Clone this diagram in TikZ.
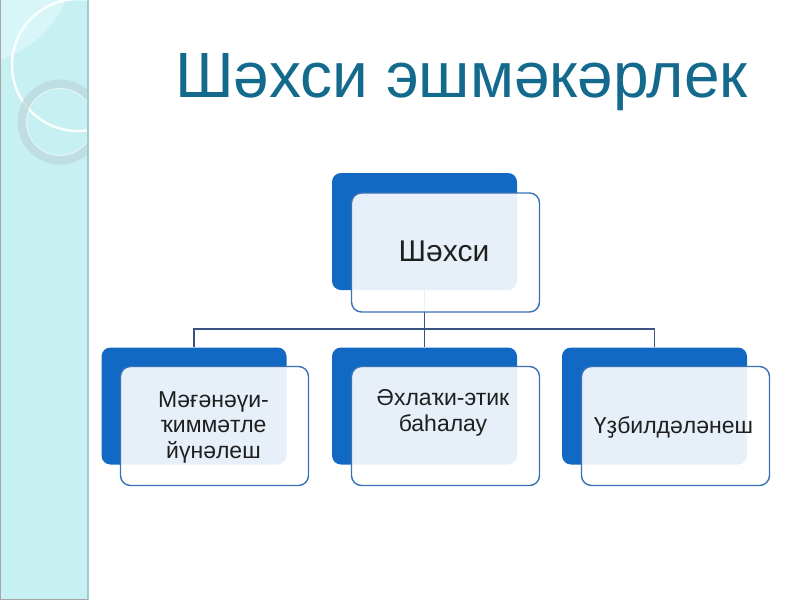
\documentclass[tikz,border=0pt]{standalone}
\usepackage{fontspec}
\setmainfont{Liberation Sans}
\definecolor{stripfill}{HTML}{C6F0F2}
\definecolor{stripedge}{HTML}{9CCBD0}
\definecolor{striplight}{HTML}{D8F5F7}
\definecolor{ringgrey}{HTML}{BCD9DD}
\definecolor{titleblue}{HTML}{146A8C}
\definecolor{backblue}{HTML}{1269C4}
\definecolor{frontline}{HTML}{3A72B6}
\definecolor{connline}{HTML}{3A5380}
\begin{document}
\begin{tikzpicture}[x=1pt,y=-1pt,
  backbox/.style={fill=backblue, draw=none, rounded corners=9pt, minimum width=185pt, minimum height=117pt, inner sep=0pt},
  frontbox/.style={fill=white, fill opacity=0.9, draw=frontline, draw opacity=1, line width=1.4pt, rounded corners=10pt, minimum width=188pt, minimum height=119pt, inner sep=0pt},
  conn/.style={draw=connline, line width=1.5pt},
  lbl/.style={font=\fontsize{23}{25.5}\selectfont, align=center, text=black!88, inner sep=0pt},
  toplbl/.style={font=\fontsize{30}{32}\selectfont, align=center, text=black!88, inner sep=0pt}]
\useasboundingbox (0,0) rectangle (800,600);
\fill[white] (0,0) rectangle (800,600);
% decorative strip
\fill[stripfill] (0,0) rectangle (88,600);
\begin{scope}
  \clip (0,0) rectangle (88,600);
  \fill[striplight] (-30,-40) circle (104);
  \draw[white, line width=2.5pt, opacity=0.9] (78,65) circle (66);
  \draw[ringgrey, line width=9pt, opacity=0.75] (60,122) circle (38);
  \draw[white, line width=1pt, opacity=0.6] (60,122) circle (33.5);
\end{scope}
\draw[stripedge, line width=1.5pt] (88,0) -- (88,600);
\draw[gray!70, line width=1pt] (0.5,0) -- (0.5,600);
\draw[gray!70, line width=1pt] (0,599.5) -- (88,599.5);
% title
\node[anchor=base west, font=\fontsize{64}{66}\selectfont, text=titleblue, inner sep=0pt] (title) at (175,97) {Шәхси эшмәкәрлек};
% back boxes
\node[backbox] (tb) at (424.5,231.5) {};
\node[backbox] (b1) at (194,406) {};
\node[backbox] (b2) at (424.5,406) {};
\node[backbox] (b3) at (654.5,406) {};
% connectors
\coordinate (hbar) at (424.5,329);
\draw[conn] (tb.south) -- (b2.north);
\draw[conn] (b1.north) -- (b1.north |- hbar) -- (b3.north |- hbar) -- (b3.north);
% front boxes
\node[frontbox] (tf) at (445.5,252.5) {};
\node[frontbox] (f1) at (214.5,426) {};
\node[frontbox] (f2) at (445.5,426) {};
\node[frontbox] (f3) at (675.5,426) {};
% labels
\node[toplbl] (t0) at (444,251) {Шәхси};
\node[lbl] (t1) at (213.5,427) {Мәғәнәүи-\\ҡиммәтле\\йүнәлеш};
\node[lbl] (t2) at (443,413) {Әхлаҡи-этик\\баһалау};
\node[lbl] (t3) at (673.5,427) {Үҙбилдәләнеш};
\end{tikzpicture}
\end{document}
